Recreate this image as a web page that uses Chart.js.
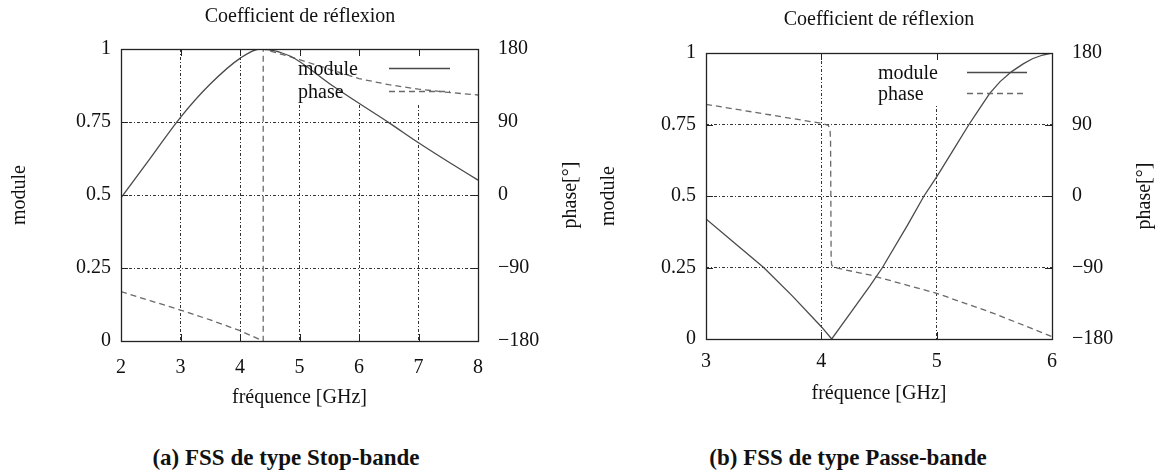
<!DOCTYPE html>
<html lang="fr">
<head>
<meta charset="utf-8">
<title>Coefficient de réflexion</title>
<script src="https://cdn.jsdelivr.net/npm/chart.js@4.4.1/dist/chart.umd.min.js"></script>
<style>
  html, body { margin: 0; padding: 0; background: #fff; overflow: hidden; }
  #page { position: relative; width: 1156px; height: 476px; }
  canvas { position: absolute; top: 0; }
  #chartA { left: 0; }
  #chartB { left: 596px; }
  .caption {
    position: absolute; top: 445px; width: 420px; line-height: 28px;
    font: bold 23px "Liberation Serif", "Times New Roman", serif;
    text-align: center; color: #111;
  }
</style>
</head>
<body>
<div id="page">
  <canvas id="chartA" width="600" height="420"></canvas>
  <canvas id="chartB" width="566" height="420"></canvas>
  <div class="caption" style="left:76px">(a) FSS de type Stop-bande</div>
  <div class="caption" style="left:638px">(b) FSS de type Passe-bande</div>
</div>
<script>
// (a) Stop-bande
const freqTicksA = [2, 3, 4, 5, 6, 7, 8];
const freqModA = [2, 2.5, 3, 3.5, 4, 4.34, 4.84, 5.5, 6, 6.5, 7, 7.5, 8];
const moduleA = [0.49, 0.628, 0.766, 0.88, 0.968, 1.0, 0.976, 0.882, 0.814, 0.748, 0.679, 0.614, 0.551];
const freqPhA = [2, 2.5, 3, 3.5, 4, 4.39, 4.39, 4.84, 5, 5.5, 6, 6.5, 7, 7.5, 8];
const phaseA = [-119, -130.5, -141.8, -154, -167.3, -180, 180, 170.5, 167, 155, 143.5, 136, 130.5, 126.5, 123.3];

// (b) Passe-bande
const freqTicksB = [3, 4, 5, 6];
const freqModB = [3, 3.25, 3.5, 3.75, 4, 4.09, 4.25, 4.42, 4.53, 4.75, 4.89, 5, 5.15, 5.28, 5.37, 5.46, 5.55, 5.65, 5.75, 5.83, 5.92, 6];
const moduleB = [0.42, 0.335, 0.25, 0.15, 0.043, 0, 0.09, 0.185, 0.25, 0.40, 0.5, 0.567, 0.665, 0.75, 0.805, 0.859, 0.9, 0.935, 0.962, 0.98, 0.993, 1.0];
const freqPhB = [3, 3.5, 4, 4.06, 4.075, 4.08, 4.085, 4.09, 4.11, 4.42, 5, 5.5, 6];
const phaseB = [115.4, 103.5, 91.5, 89, 84, 70, -80, -87, -90, -99.4, -122.5, -148, -177];

const moduleTicks = [0, 0.25, 0.5, 0.75, 1];
const phaseTicks = [-180, -90, 0, 90, 180];

const FONT = '"Liberation Serif", "Times New Roman", serif';
Chart.defaults.font.family = FONT;
Chart.defaults.font.size = 20;
Chart.defaults.color = '#111';

const toPoints = (xs, ys) => xs.map((x, i) => ({ x: x, y: ys[i] }));
const fmtPhase = v => (v < 0 ? '\u2212' + Math.abs(v) : String(v));

// gnuplot-like frame: legend box, inward ticks, border, legend and right title
const gnuplotFrame = {
  id: 'gnuplotFrame',
  beforeDatasetsDraw(chart, args, o) {
    const { ctx, chartArea: a, scales } = chart;
    ctx.save();
    // opaque legend box hides the grid
    ctx.fillStyle = '#fff';
    ctx.fillRect(a.right - o.boxW, a.top + 1, o.boxW - 1, o.boxH);
    // inward tick marks
    ctx.strokeStyle = '#222';
    ctx.lineWidth = 1;
    ctx.beginPath();
    scales.x.ticks.forEach(t => {
      const px = Math.round(scales.x.getPixelForValue(t.value)) + 0.5;
      ctx.moveTo(px, a.bottom); ctx.lineTo(px, a.bottom - 7);
      ctx.moveTo(px, a.top); ctx.lineTo(px, a.top + 7);
    });
    scales.y.ticks.forEach(t => {
      const py = Math.round(scales.y.getPixelForValue(t.value)) + 0.5;
      ctx.moveTo(a.left, py); ctx.lineTo(a.left + 7, py);
    });
    scales.y2.ticks.forEach(t => {
      const py = Math.round(scales.y2.getPixelForValue(t.value)) + 0.5;
      ctx.moveTo(a.right, py); ctx.lineTo(a.right - 7, py);
    });
    ctx.stroke();
    ctx.restore();
  },
  afterDatasetsDraw(chart, args, o) {
    const { ctx, chartArea: a } = chart;
    ctx.save();
    ctx.strokeStyle = '#222';
    ctx.lineWidth = 1.3;
    ctx.strokeRect(Math.round(a.left) + 0.5, Math.round(a.top) + 0.5,
                   Math.round(a.right - a.left), Math.round(a.bottom - a.top));
    // legend: label, then line sample
    ctx.font = '20px ' + FONT;
    ctx.fillStyle = '#111';
    ctx.textBaseline = 'middle';
    ctx.textAlign = 'left';
    chart.data.datasets.forEach((ds, i) => {
      const y = a.top + o.row0 + i * o.rowGap;
      ctx.fillText(ds.label, a.right - o.textX, y);
      ctx.beginPath();
      ctx.strokeStyle = ds.borderColor;
      ctx.lineWidth = ds.borderWidth;
      ctx.setLineDash(ds.borderDash || []);
      ctx.moveTo(a.right - o.sampleX0, Math.round(y) - 1.5);
      ctx.lineTo(a.right - o.sampleX1, Math.round(y) - 1.5);
      ctx.stroke();
    });
    ctx.setLineDash([]);
    // right axis title, reading upward
    ctx.translate(a.right + o.y2TitleX, (a.top + a.bottom) / 2);
    ctx.rotate(-Math.PI / 2);
    ctx.textAlign = 'center';
    ctx.fillText('phase[\u00b0]', 0, 0);
    ctx.restore();
  }
};

function makeChart(id, d) {
  const gridDash = [3, 2, 1, 2];
  return new Chart(document.getElementById(id), {
    type: 'line',
    data: {
      datasets: [
        {
          label: 'module',
          data: toPoints(d.freqMod, d.module),
          yAxisID: 'y',
          borderColor: '#4a4a4a',
          borderWidth: 1.3,
          pointRadius: 0,
          tension: d.modTension,
          cubicInterpolationMode: d.modTension ? 'monotone' : 'default'
        },
        {
          label: 'phase',
          data: toPoints(d.freqPh, d.phase),
          yAxisID: 'y2',
          borderColor: '#6a6a6a',
          borderWidth: 1.3,
          borderDash: [6, 4],
          pointRadius: 0,
          tension: 0
        }
      ]
    },
    options: {
      responsive: false,
      animation: false,
      events: [],
      layout: { padding: 0 },
      plugins: {
        legend: { display: false },
        tooltip: { enabled: false },
        title: {
          display: true,
          text: 'Coefficient de r\u00e9flexion',
          font: { size: 20, weight: 'normal' },
          color: '#111',
          padding: { top: d.titleTop, bottom: d.titleBottom }
        },
        gnuplotFrame: d.frame
      },
      scales: {
        x: {
          type: 'linear',
          min: d.freqTicks[0],
          max: d.freqTicks[d.freqTicks.length - 1],
          afterBuildTicks: s => { s.ticks = d.freqTicks.map(v => ({ value: v })); },
          afterFit: s => { s.height = d.xHeight; },
          grid: { color: '#333', lineWidth: 1, drawTicks: false },
          border: { display: false, dash: gridDash },
          ticks: { padding: d.xTickPad, color: '#111', maxRotation: 0, callback: v => String(v) },
          title: { display: true, text: 'fr\u00e9quence [GHz]', color: '#111',
                   font: { size: 20 }, padding: { top: 0, bottom: d.xTitlePad } }
        },
        y: {
          position: 'left',
          min: 0, max: 1,
          afterBuildTicks: s => { s.ticks = moduleTicks.map(v => ({ value: v })); },
          afterFit: s => { s.width = d.yWidth; },
          grid: { color: '#333', lineWidth: 1, drawTicks: false },
          border: { display: false, dash: gridDash },
          ticks: { padding: 10, color: '#111', callback: v => String(v) },
          title: { display: true, text: 'module', color: '#111',
                   font: { size: 20 }, padding: { top: d.yTitlePad, bottom: 0 } }
        },
        y2: {
          position: 'right',
          min: -180, max: 180,
          afterBuildTicks: s => { s.ticks = phaseTicks.map(v => ({ value: v })); },
          afterFit: s => { s.width = d.y2Width; },
          grid: { display: false, drawTicks: false },
          border: { display: false },
          ticks: { padding: 20, color: '#111', callback: fmtPhase }
        }
      }
    },
    plugins: [gnuplotFrame]
  });
}

makeChart('chartA', {
  freqTicks: freqTicksA, freqMod: freqModA, module: moduleA, freqPh: freqPhA, phase: phaseA,
  modTension: 0.4,
  titleTop: 5, titleBottom: 20, xHeight: 79, xTickPad: 15, xTitlePad: 10,
  yWidth: 121, y2Width: 122, yTitlePad: 8,
  frame: { boxW: 185, boxH: 55, textX: 180, sampleX0: 89, sampleX1: 28, row0: 21, rowGap: 23, y2TitleX: 93 }
});

makeChart('chartB', {
  freqTicks: freqTicksB, freqMod: freqModB, module: moduleB, freqPh: freqPhB, phase: phaseB,
  modTension: 0,
  titleTop: 8, titleBottom: 21, xHeight: 81, xTickPad: 11, xTitlePad: 14,
  yWidth: 110, y2Width: 110, yTitlePad: 1,
  frame: { boxW: 182, boxH: 52, textX: 174, sampleX0: 85, sampleX1: 25, row0: 21, rowGap: 21, y2TitleX: 93 }
});
</script>
</body>
</html>
